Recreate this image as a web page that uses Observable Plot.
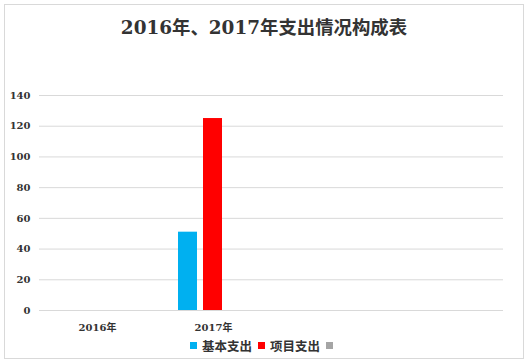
<!DOCTYPE html>
<html><head><meta charset="utf-8">
<script src="https://cdn.jsdelivr.net/npm/d3@7"></script>
<script src="https://cdn.jsdelivr.net/npm/@observablehq/plot@0.6"></script>
<style>
body{margin:0;background:#fff;}
#wrap{position:relative;width:528px;height:364px;background:#fff;font-family:"DejaVu Serif","Noto Sans CJK SC",serif;font-weight:bold;color:#333;}
#border{position:absolute;left:4px;top:4px;width:518px;height:353px;border:1px solid #d9d9d9;}
#title{position:absolute;left:0;width:528px;top:15px;text-align:center;font-size:18.4px;line-height:26px;color:#333;}
#plot{position:absolute;left:0;top:0;}
#legend{position:absolute;left:0;top:336px;width:528px;display:flex;justify-content:center;align-items:center;font-size:12.5px;color:#333;}
.item{display:flex;align-items:center;margin:0 3px;}
.sw{width:7px;height:7px;margin-right:5px;}
</style></head>
<body>
<div id="wrap">
<div id="border"></div>
<div id="title">2016年、2017年支出情况构成表</div>
<div id="plot"></div>
<div id="legend"></div>
</div>
<script>
const title = "2016年、2017年支出情况构成表";
const years = ["2016年", "2017年", " ", "  "];
const series = ["基本支出", "项目支出", ""];
const basic = [0, 51, null, null];
const project = [0, 125, null, null];
const other = [null, null, null, null];
const colors = ["#00b0f0", "#ff0000", "#a5a5a5"];
const yTicks = [0, 20, 40, 60, 80, 100, 120, 140];

const data = [];
[basic, project, other].forEach((vals, k) =>
  vals.forEach((v, i) => data.push({year: years[i], s: series[k], v}))
);

const chart = Plot.plot({
  width: 528,
  height: 364,
  marginTop: 95,
  marginBottom: 54,
  marginLeft: 39,
  marginRight: 25,
  style: {fontFamily: '"DejaVu Serif","Noto Sans CJK SC",serif', fontWeight: "bold", fontSize: "10px", color: "#333", background: "transparent"},
  fx: {domain: years, padding: 0, label: null, tickSize: 0, tickPadding: 13},
  x: {domain: series, paddingInner: 0.23, paddingOuter: 0.846, axis: null},
  y: {domain: [0, 140], ticks: yTicks, label: null, tickSize: 0, tickPadding: 9},
  color: {domain: series, range: colors},
  marks: [
    Plot.gridY(yTicks, {stroke: "#d9d9d9", strokeOpacity: 1}),
    Plot.barY(data, {fx: "year", x: "s", y: "v", fill: "s"})
  ]
});
document.getElementById("plot").appendChild(chart);

const legend = document.getElementById("legend");
series.forEach((s, i) => {
  const it = document.createElement("div");
  it.className = "item";
  it.innerHTML = `<div class="sw" style="background:${colors[i]}"></div><span>${s}</span>`;
  legend.appendChild(it);
});
</script>
</body></html>
